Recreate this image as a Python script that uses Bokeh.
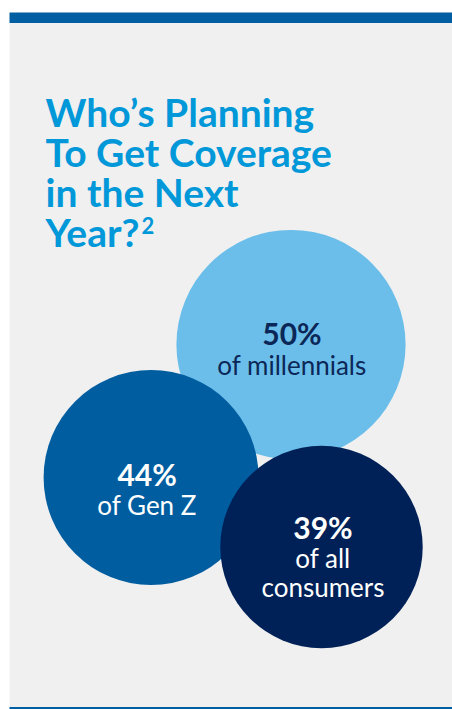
from bokeh.plotting import figure
from bokeh.models import Range1d, ColumnDataSource
from bokeh.core.properties import value
from bokeh.embed import file_html
from bokeh.resources import INLINE
import numpy as np

# ---- data ----
groups = ["millennials", "Gen Z", "all consumers"]
shares = [50, 44, 39]
pct_labels = ["50%", "44%", "39%"]
group_labels = ["of millennials", "of Gen Z", "of all\nconsumers"]
title_lines = ["Who\u2019s Planning", "To Get Coverage", "in the Next", "Year?"]
footnote = "2"

# ---- layout ----
W, H = 452, 709
cx = [290.5, 150.6, 321.0]
cy = [344.0, 477.0, 546.5]
r_scale = 114.6 / np.sqrt(50)
fills = ["#6BBEEA", "#005DA0", "#002157"]
pct_colors = ["#0B2757", "#FFFFFF", "#FFFFFF"]
pct_dx = [1.0, -4.0, 1.5]
pct_dy = [-12.0, -4.0, -20.5]
lab_dy = [20.0, 27.0, 11.0]

p = figure(width=W, height=H, x_range=Range1d(0, W), y_range=Range1d(H, 0),
           output_backend="svg", toolbar_location=None, min_border=0)
p.axis.visible = False
p.grid.visible = False
p.outline_line_color = None
p.background_fill_color = "#FFFFFF"
p.border_fill_color = "#FFFFFF"

# panel, top bar, bottom rule
p.quad(left=[9], right=[W], top=[22.5], bottom=[H], fill_color="#F0F0F0", line_color=None)
p.quad(left=[9], right=[W], top=[12], bottom=[22.5], fill_color="#005EA2", line_color=None)
p.quad(left=[9], right=[W], top=[706.5], bottom=[709], fill_color="#005EA2", line_color=None)

# circles (area proportional to share)
radii = [r_scale * np.sqrt(v) for v in shares]
src = ColumnDataSource(dict(x=cx, y=cy, r=radii, c=fills, g=groups))
p.circle(x="x", y="y", radius="r", fill_color="c", line_color=None, source=src)

# title
ty = [111, 151.5, 191, 231]
p.text(x=[45] * 4, y=ty, text=title_lines, text_font=value("Lato"),
       text_font_style="bold", text_font_size="39px", text_color="#0098D9",
       text_baseline="alphabetic", text_align="left")
p.text(x=[141], y=[225], text=[footnote], text_font=value("Lato"),
       text_font_style="bold", text_font_size="22px", text_color="#0098D9",
       text_baseline="alphabetic", text_align="left")

# percentage labels
px = [cx[i] + pct_dx[i] for i in range(3)]
py = [cy[i] + pct_dy[i] for i in range(3)]
p.text(x=px, y=py, text=pct_labels, text_font=value("Lato"), text_font_style="bold",
       text_font_size="30px", text_color=pct_colors, text_baseline="alphabetic",
       text_align="center")

# group labels
for i in range(3):
    lines = group_labels[i].split("\n")
    ys = [cy[i] + lab_dy[i] + 28.5 * k for k in range(len(lines))]
    p.text(x=[px[i]] * len(lines), y=ys, text=lines, text_font=value("Lato"),
           text_font_size="26px", text_color=pct_colors[i], text_baseline="alphabetic",
           text_align="center")

open("out.html", "w").write(file_html(p, INLINE))
